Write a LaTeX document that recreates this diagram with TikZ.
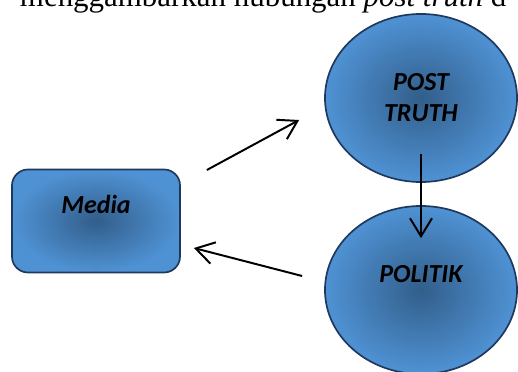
\documentclass[tikz,border=0pt]{standalone}
\usepackage{fontspec}
\setmainfont{Liberation Serif}
\newfontfamily\calibri{Carlito}
\usetikzlibrary{shapes.geometric,arrows.meta}
\definecolor{boxedge}{RGB}{31,56,93}
\definecolor{boxout}{RGB}{79,146,212}
\definecolor{boxin}{RGB}{50,94,138}
\begin{document}
\begin{tikzpicture}[x=0.025cm,y=-0.025cm,
  shapebase/.style={draw=boxedge,line width=1.2pt,shading=radial,
    inner color=boxin,outer color=boxout,
    font=\calibri\bfseries\itshape\fontsize{18.5}{22}\selectfont},
  box/.style={shapebase,rectangle,rounded corners=0.4cm,
    minimum width=4.2cm,minimum height=2.575cm,text height=0.45cm,text depth=0.8cm},
  oval/.style={shapebase,ellipse,inner sep=0pt,minimum width=4.8cm,minimum height=4.2cm},
  link/.style={line width=1.4pt,-{Straight Barb[length=0.45cm,width=0.55cm]}}]
  \clip (0,0) rectangle (518,372);
  \node[anchor=base west,font=\fontsize{22}{26}\selectfont] (head) at (15,7)
    {menggambarkan hubungan \textit{post truth} d};
  \node[box] (media) at (96,221) {Media};
  \node[oval,align=center] (post) at (421,98) {POST\\TRUTH};
  \node[oval,text height=0.45cm,text depth=0.8cm] (politik) at (421,290) {POLITIK};
  \draw[link] ([shift={(26,-51)}]media.east) -- ([shift={(-25,22)}]post.west);
  \draw[link] ([shift={(0,-29)}]post.south) -- ([shift={(0,33)}]politik.north);
  \draw[link] ([shift={(-22,-14)}]politik.west) -- ([shift={(13,27)}]media.east);
\end{tikzpicture}
\end{document}
